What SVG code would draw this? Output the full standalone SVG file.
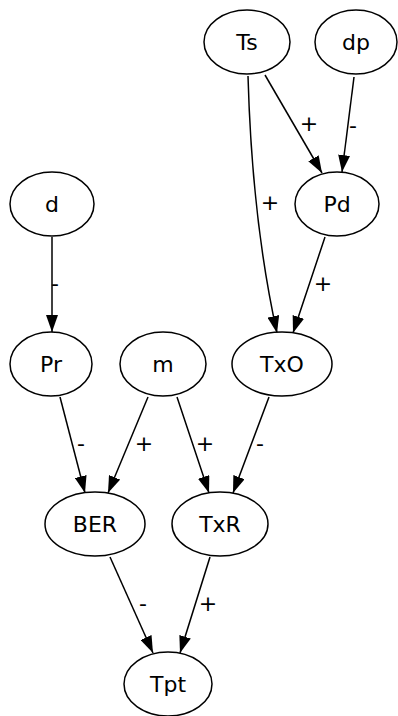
<svg xmlns="http://www.w3.org/2000/svg" width="398" height="716" viewBox="0 0 398 716">
<style>
.n ellipse{fill:#fff;stroke:#000;stroke-width:1.5}
text{font-family:"DejaVu Sans",sans-serif;font-size:22px;fill:#000;text-anchor:middle;dominant-baseline:central}
.e path{fill:none;stroke:#000;stroke-width:1.5;marker-end:url(#a)}
.l{font-size:22px}
</style>
<defs>
<marker id="a" markerUnits="userSpaceOnUse" markerWidth="17" markerHeight="12" refX="17" refY="6" orient="auto" viewBox="0 0 17 12">
<path d="M0,0 L17,6 L0,12 z" fill="#000"/>
</marker>
</defs>
<rect width="398" height="716" fill="#fff"/>
<g id="edges" class="e">
<path d="M265,75 L322,173"/>
<path d="M248,76 Q252,220 277,333"/>
<path d="M354,77 L342,172"/>
<path d="M325,237 L293,333"/>
<path d="M52,237 L52,332"/>
<path d="M60,397 L85,493"/>
<path d="M148,397 L108,493"/>
<path d="M177,397 L209,493"/>
<path d="M269,397 L233,493"/>
<path d="M110,557 L153,653"/>
<path d="M210,557 L180,653"/>
</g>
<g id="labels">
<text class="l" x="309" y="123">+</text>
<text class="l" x="353" y="125">-</text>
<text class="l" x="270" y="202">+</text>
<text class="l" x="323" y="283">+</text>
<text class="l" x="55" y="283">-</text>
<text class="l" x="81" y="443">-</text>
<text class="l" x="144" y="443">+</text>
<text class="l" x="205" y="443">+</text>
<text class="l" x="260" y="443">-</text>
<text class="l" x="143" y="603">-</text>
<text class="l" x="208" y="603">+</text>
</g>
<g id="Ts" class="n"><ellipse cx="247" cy="42" rx="43" ry="32"/><text x="247" y="42">Ts</text></g>
<g id="dp" class="n"><ellipse cx="356" cy="42" rx="41" ry="32"/><text x="356" y="42">dp</text></g>
<g id="Pd" class="n"><ellipse cx="337" cy="204" rx="42" ry="32"/><text x="337" y="204">Pd</text></g>
<g id="d" class="n"><ellipse cx="52" cy="204" rx="42" ry="32"/><text x="52" y="204">d</text></g>
<g id="Pr" class="n"><ellipse cx="51" cy="364" rx="41" ry="32"/><text x="51" y="364">Pr</text></g>
<g id="m" class="n"><ellipse cx="163" cy="364" rx="43" ry="32"/><text x="163" y="364">m</text></g>
<g id="TxO" class="n"><ellipse cx="282" cy="364" rx="50" ry="32"/><text x="282" y="364">TxO</text></g>
<g id="BER" class="n"><ellipse cx="95" cy="524" rx="50" ry="32"/><text x="95" y="524">BER</text></g>
<g id="TxR" class="n"><ellipse cx="220" cy="524" rx="48" ry="32"/><text x="220" y="524">TxR</text></g>
<g id="Tpt" class="n"><ellipse cx="168" cy="684" rx="44" ry="32"/><text x="168" y="684">Tpt</text></g>
</svg>
